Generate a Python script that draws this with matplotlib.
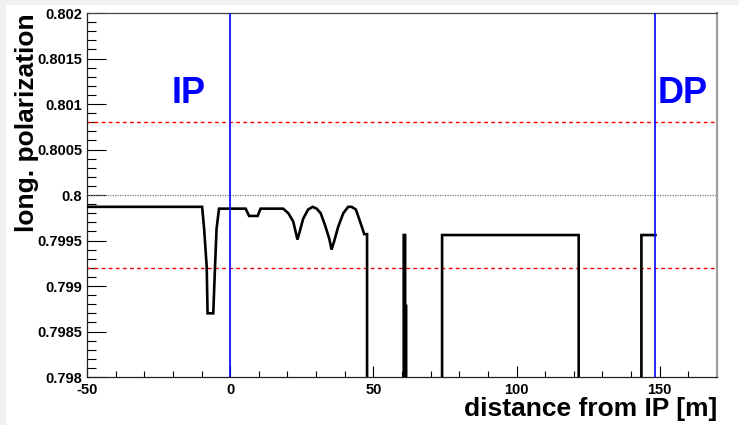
import matplotlib
matplotlib.use("Agg")
import matplotlib.pyplot as plt
from matplotlib.patches import Rectangle
from matplotlib.ticker import MultipleLocator, FixedFormatter, FixedLocator

plt.rcParams['font.family'] = ['Liberation Sans', 'DejaVu Sans']
plt.rcParams['font.weight'] = 'bold'

LOW = 0.7975
# distance from IP [m] and longitudinal polarization
pos_m = [-50, -9.8, -9.1, -8.2, -7.9, -5.9, -5.3, -4.75, -3.9,
         5.4, 6.6, 9.6, 10.6,
         18.5, 20.3, 22.0, 23.5, 24.3, 25.5, 27.2, 28.8, 30.2, 31.6, 33.1,
         34.6, 35.4, 36.3, 37.7, 39.5, 41.2, 42.4, 43.9, 45.0, 46.2, 46.8,
         47.8, 47.8,
         60.6, 60.6, 61.1, 61.1, 61.45, 61.45,
         74.0, 74.0, 121.7, 121.7,
         143.6, 143.6, 148.5]
pol = [0.79987, 0.79987, 0.79963, 0.79921, 0.79870, 0.79870, 0.79921, 0.79963, 0.79985,
       0.79985, 0.79977, 0.79977, 0.79985,
       0.79985, 0.79980, 0.79971, 0.79951, 0.79960, 0.79974, 0.79984, 0.79987, 0.79985, 0.79980, 0.79967,
       0.79952, 0.79940, 0.79949, 0.79965, 0.79980, 0.79987, 0.79987, 0.79984, 0.79974, 0.79963, 0.79957,
       0.79957, LOW,
       LOW, 0.79956, 0.79956, 0.79878, 0.79878, LOW,
       LOW, 0.79956, 0.79956, LOW,
       LOW, 0.79956, 0.79956]

ip_pos = 0.0
dp_pos = 148.5
ref_pol = 0.8
tol_upper = 0.8008
tol_lower = 0.7992

xticks = [-50, 0, 50, 100, 150]
xticklabels = ['-50', '0', '50', '100', '150']
yticks = [0.798, 0.7985, 0.799, 0.7995, 0.8, 0.8005, 0.801, 0.8015, 0.802]
yticklabels = ['0.798', '0.7985', '0.799', '0.7995', '0.8', '0.8005', '0.801', '0.8015', '0.802']

W, H = 739, 425
fig = plt.figure(figsize=(W / 100, H / 100), dpi=100, facecolor='#f0f0f0')
fig.patches.append(Rectangle((6 / W, 0), 1 - 6 / W, 1 - 5 / H, transform=fig.transFigure,
                             facecolor='white', edgecolor='none', zorder=-10))
ax = fig.add_axes([87 / W, 1 - 377 / H, (717 - 87) / W, (377 - 13) / H])
ax.set_zorder(5)
ax.set_facecolor('white')

ax.set_xlim(-50, 170)
ax.set_ylim(0.798, 0.802)

ax.axhline(ref_pol, color='#7a7a7a', lw=0.9, linestyle=(0, (1, 1)), zorder=2)
for v in (tol_upper, tol_lower):
    ax.axhline(v, color='#ff0000', lw=1.0, linestyle=(0, (2.7, 2.4)), zorder=2)

ax.plot(pos_m, pol, color='black', lw=1.9, solid_joinstyle='miter', zorder=3)

for v in (ip_pos, dp_pos):
    ax.axvline(v, color='#0000ff', lw=1.2, zorder=4)

ax.text(-20.5, 0.80101, 'IP', color='#0000ff', fontsize=26, fontweight='bold', ha='left', va='baseline')
ax.text(149.1, 0.80101, 'DP', color='#0000ff', fontsize=26, fontweight='bold', ha='left', va='baseline')

ax.xaxis.set_major_locator(FixedLocator(xticks))
ax.xaxis.set_major_formatter(FixedFormatter(xticklabels))
ax.xaxis.set_minor_locator(MultipleLocator(10))
ax.yaxis.set_major_locator(FixedLocator(yticks))
ax.yaxis.set_major_formatter(FixedFormatter(yticklabels))
ax.yaxis.set_minor_locator(MultipleLocator(0.0001))

ax.tick_params(axis='x', which='major', direction='in', length=8, width=0.8, pad=4, labelsize=10.5)
ax.tick_params(axis='x', which='minor', direction='in', length=4.3, width=0.8)
ax.tick_params(axis='y', which='major', direction='in', length=13.5, width=0.8, pad=3.5, labelsize=10.5)
ax.tick_params(axis='y', which='minor', direction='in', length=6.5, width=0.8)
for lab in ax.get_xticklabels() + ax.get_yticklabels():
    lab.set_fontweight('bold')

ax.spines['left'].set_color('#222222')
ax.spines['bottom'].set_color('#222222')
ax.spines['top'].set_color('#444444')
ax.spines['right'].set_color('#a0a0a0')
ax.spines['right'].set_linewidth(1.6)
for s in ('left', 'bottom', 'top'):
    ax.spines[s].set_linewidth(0.9)

fig.text(27 / W, 1 - 13 / H, 'long. polarization', rotation=90, ha='center', va='top',
         fontsize=19, fontweight='bold')
fig.text(717 / W, 1 - 416 / H, 'distance from IP [m]', ha='right', va='baseline',
         fontsize=19, fontweight='bold')

fig.savefig('out.png', dpi=100, facecolor=fig.get_facecolor())
